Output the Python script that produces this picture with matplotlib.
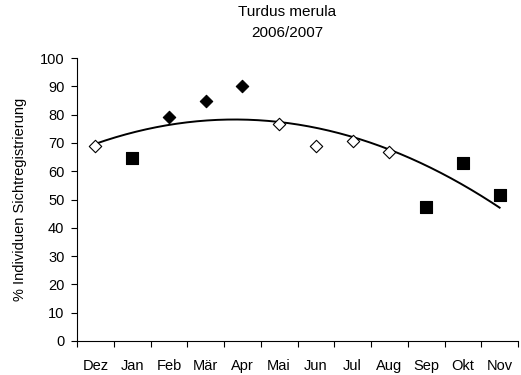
import numpy as np
import matplotlib
matplotlib.use("Agg")
import matplotlib.pyplot as plt

plt.rcParams['font.family'] = ['Liberation Sans', 'DejaVu Sans']

months = ["Dez", "Jan", "Feb", "Mär", "Apr", "Mai", "Jun", "Jul", "Aug", "Sep", "Okt", "Nov"]
values = [68.9, 64.6, 79.3, 84.8, 90.1, 76.6, 68.9, 70.8, 66.9, 47.2, 62.8, 51.6]
# marker group per month: open diamond, filled diamond, filled square
groups = ["open", "sq", "fill", "fill", "fill", "open", "open", "open", "open", "sq", "sq", "sq"]

fig = plt.figure(figsize=(5.21, 3.75), dpi=100)
ax = fig.add_axes([77/521, 34/375, (518-77)/521, (341-58)/375])

x = np.arange(len(months))
vals = np.array(values)
g = np.array(groups)

m = g == "open"
ax.scatter(x[m], vals[m], marker="D", s=40, facecolors="white", edgecolors="black", linewidths=0.8, zorder=3)
m = g == "fill"
ax.scatter(x[m], vals[m], marker="D", s=40, facecolors="black", edgecolors="black", linewidths=0.8, zorder=3)
m = g == "sq"
ax.scatter(x[m], vals[m], marker="s", s=70, facecolors="black", edgecolors="black", linewidths=0.8, zorder=3)

coef = np.polyfit(x, vals, 2)
xf = np.linspace(0, len(months) - 1, 200)
ax.plot(xf, np.polyval(coef, xf), color="black", lw=1.4, zorder=2)

ax.set_xlim(-0.5, len(months) - 0.5)
ax.set_ylim(0, 100)
ax.set_yticks(np.arange(0, 101, 10))
ax.set_xticks(x)
ax.set_xticklabels(months)
ax.set_xticks(np.arange(-0.5, len(months), 1), minor=True)
ax.tick_params(axis="x", which="major", length=0, pad=13, labelsize=10.5)
ax.tick_params(axis="x", which="minor", length=4, width=0.8, direction="out")
ax.tick_params(axis="y", length=4, width=0.8, direction="out", labelsize=10.5, pad=5)
for s in ["top", "right"]:
    ax.spines[s].set_visible(False)
for s in ["left", "bottom"]:
    ax.spines[s].set_linewidth(0.8)

ax.set_ylabel("% Individuen Sichtregistrierung", fontsize=10.5, labelpad=9)
fig.text(287/521, 1 - 12/375, "Turdus merula", ha="center", va="center", fontsize=11)
fig.text(287/521, 1 - 33/375, "2006/2007", ha="center", va="center", fontsize=11)

fig.savefig("out.png", dpi=100)
